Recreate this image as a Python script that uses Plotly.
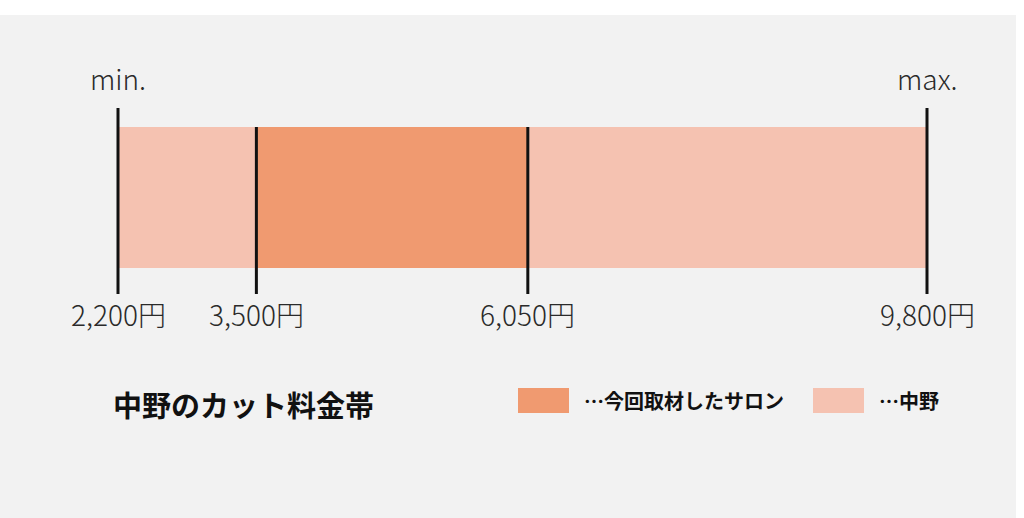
import plotly.graph_objects as go

# price band of Nakano hair cuts (yen)
area_min = 2200
area_max = 9800
salon_min = 3500
salon_max = 6050
band_names = ["中野", "今回取材したサロン"]
band_colors = ["#f5c2b1", "#f09a70"]
end_labels = ["min.", "max."]

title_text = "中野のカット料金帯"
font_cjk = "Noto Sans CJK JP"

W, H = 1024, 518
# x axis placed so that 2,200 -> 118px and 9,800 -> 927px
px_per_yen = (927 - 118) / (area_max - area_min)
x0 = area_min - 118 / px_per_yen
x1 = x0 + W / px_per_yen

bar_y = 197.5
bar_h = 141

fig = go.Figure()

fig.add_trace(go.Bar(
    y=[bar_y], x=[area_max - area_min], base=[area_min], orientation="h",
    width=bar_h, marker=dict(color=band_colors[0], line=dict(width=0)),
    name=band_names[0], hoverinfo="skip"))
fig.add_trace(go.Bar(
    y=[bar_y], x=[salon_max - salon_min], base=[salon_min], orientation="h",
    width=bar_h, marker=dict(color=band_colors[1], line=dict(width=0)),
    name=band_names[1], hoverinfo="skip"))

# vertical marker lines
for v, top in [(area_min, 108), (salon_min, 127), (salon_max, 127), (area_max, 108)]:
    fig.add_trace(go.Scatter(x=[v, v], y=[top, 294], mode="lines",
                             line=dict(color="#111111", width=3),
                             hoverinfo="skip", showlegend=False))

label_font = dict(family=font_cjk, size=28, color="#2a2a2a", weight=300)
annotations = []
for v in [area_min, salon_min, salon_max, area_max]:
    annotations.append(dict(x=v, y=314, xref="x", yref="y", text=f"{v:,}円",
                            showarrow=False, font=label_font))
for v, lab in zip([area_min, area_max], end_labels):
    annotations.append(dict(x=v, y=78, xref="x", yref="y", text=lab, showarrow=False,
                            font=label_font))

annotations.append(dict(x=111 / W, y=404, xref="paper", yref="y", text=f"<b>{title_text}</b>",
                        showarrow=False, xanchor="left",
                        font=dict(family=font_cjk, size=29, color="#111111")))

shapes = [dict(type="rect", xref="paper", yref="paper", x0=0, x1=1016 / W, y0=0, y1=(H - 15) / H,
               fillcolor="#f2f2f2", line=dict(width=0), layer="below")]

# hand made legend
legend_items = [(518, band_colors[1], band_names[1]), (813, band_colors[0], band_names[0])]
for lx, col, name in legend_items:
    shapes.append(dict(type="rect", xref="paper", yref="y", x0=lx / W, x1=(lx + 51) / W,
                       y0=388, y1=413, fillcolor=col, line=dict(width=0)))
    annotations.append(dict(x=(lx + 64) / W, y=400.5, xref="paper", yref="y",
                            text=f"<b>…{name}</b>", showarrow=False, xanchor="left",
                            font=dict(family=font_cjk, size=20, color="#111111")))

fig.update_layout(
    width=W, height=H,
    margin=dict(l=0, r=0, t=0, b=0),
    paper_bgcolor="#ffffff", plot_bgcolor="rgba(0,0,0,0)",
    barmode="overlay", showlegend=False,
    xaxis=dict(range=[x0, x1], visible=False, fixedrange=True),
    yaxis=dict(range=[H, 0], visible=False, fixedrange=True),
    shapes=shapes, annotations=annotations,
)

fig.write_html("out.html", config={"displayModeBar": False},
               post_script="document.body.style.margin='0';")
